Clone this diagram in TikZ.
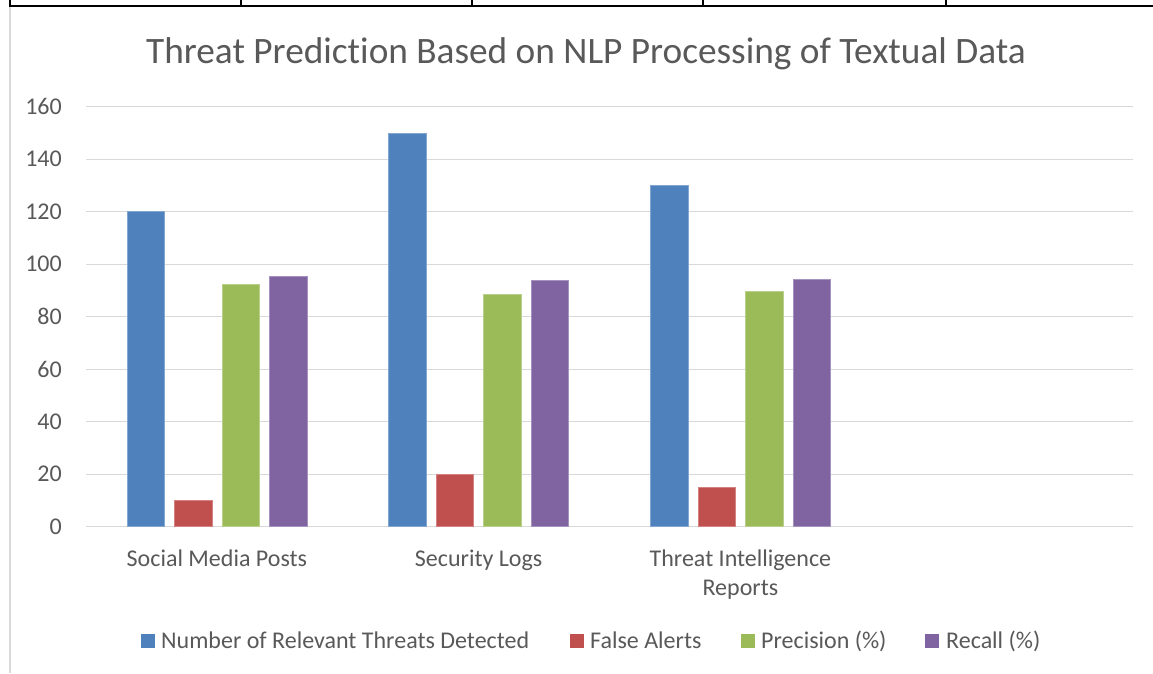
\documentclass[tikz,border=0pt]{standalone}
\usepackage{fontspec}
\setmainfont{Carlito}[RawFeature={-liga}]
\definecolor{txt}{HTML}{595959}
\definecolor{gridc}{HTML}{D9D9D9}
\definecolor{sA}{HTML}{4F81BD}
\definecolor{sB}{HTML}{C0504D}
\definecolor{sC}{HTML}{9BBB59}
\definecolor{sD}{HTML}{8064A2}
\begin{document}
\begin{tikzpicture}[x=1pt,y=-1pt,
  tableline/.style={black,line width=1.6pt},
  gridline/.style={gridc,line width=1.3pt},
  ylab/.style={anchor=east,inner sep=0pt,text=txt,font=\fontsize{24}{29}\selectfont},
  catlab/.style={anchor=base,inner sep=0pt,text=txt,align=center,font=\fontsize{24}{29.3}\selectfont},
  leglab/.style={anchor=base west,inner sep=0pt,text=txt,font=\fontsize{24}{29}\selectfont},
  titlelab/.style={anchor=base,inner sep=0pt,text=txt,font=\fontsize{37.3}{40}\selectfont},
  bar/.style={fill=#1,draw=#1!70!white,line width=0.8pt}]
\useasboundingbox (0,0) rectangle (1153,673);
\fill[white] (0,0) rectangle (1153,673);
% table border at the top
\draw[tableline] (10,6) -- (1153,6);
\foreach \x in {10,241,472,703,946} \draw[tableline] (\x,0) -- (\x,6.8);
% chart area border
\draw[gridc,line width=1.3pt] (10,7) -- (10,673);
% title
\node[titlelab] (title) at (586,63) {Threat Prediction Based on NLP Processing of Textual Data};
% grid and y labels
\foreach \v in {0,20,...,160}{
  \draw[gridline] (86,{526.7-2.625*\v}) -- (1133,{526.7-2.625*\v});
  \node[ylab] (y\v) at (62,{526.7-2.625*\v}) {\v};
}
% bars
\foreach \c/\a/\b/\p/\r in {216.9/120/10/92.3/95.5, 478.6/150/20/88.6/93.9, 740.4/130/15/89.7/94.4}{
  \filldraw[bar=sA] ({\c-90},526.7) rectangle ({\c-52.5},{526.7-2.625*\a});
  \filldraw[bar=sB] ({\c-42.5},526.7) rectangle ({\c-5},{526.7-2.625*\b});
  \filldraw[bar=sC] ({\c+5},526.7) rectangle ({\c+42.5},{526.7-2.625*\p});
  \filldraw[bar=sD] ({\c+52.5},526.7) rectangle ({\c+90},{526.7-2.625*\r});
}
% category labels
\node[catlab] (c1) at (216.9,566) {Social Media Posts};
\node[catlab] (c2) at (478.6,566) {Security Logs};
\node[catlab] (c3) at (740.4,595.3) {Threat Intelligence\\Reports};
% legend
\fill[sA] (141,633.5) rectangle (155,647.5);
\node[leglab] (l1) at (161,648) {Number of Relevant Threats Detected};
\fill[sB] (570,633.5) rectangle (584,647.5);
\node[leglab] (l2) at (590,648) {False Alerts};
\fill[sC] (741,633.5) rectangle (755,647.5);
\node[leglab] (l3) at (761,648) {Precision (\%)};
\fill[sD] (925,633.5) rectangle (939,647.5);
\node[leglab] (l4) at (946,648) {Recall (\%)};
\end{tikzpicture}
\end{document}
